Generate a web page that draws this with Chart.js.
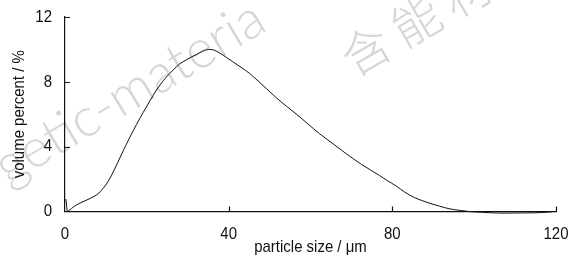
<!DOCTYPE html>
<html>
<head>
<meta charset="utf-8">
<script src="https://cdn.jsdelivr.net/npm/chart.js@4"></script>
<style>
html,body{margin:0;padding:0;background:#fff;}
#wrap{width:568px;height:259px;position:relative;}
</style>
</head>
<body>
<div id="wrap"><canvas id="c" width="568" height="259"></canvas></div>
<script>
// ---- data ----
const particleSize = [0, 0.2, 0.57, 1.2, 2, 3.66, 6.1, 8.1, 9.3, 10.6, 12, 13.4, 15, 16.7, 18.3, 19.9, 21.5, 23.2, 24.8, 26.4, 28, 29.7, 31, 32.1, 33.7, 35.4, 36.5, 37.8, 39.5, 41, 43, 45.1, 47.2, 49.2, 51.5, 54.1, 56.5, 59.3, 62.2, 65.5, 68.7, 72.5, 76.8, 78.8, 80.9, 83, 85.4, 87.2, 89, 91.5, 93.9, 96.5, 98.8, 102, 106.8, 111, 115, 118.5, 120];
const volumePercent = [0.68, 0.75, 0.02, 0.1, 0.27, 0.52, 0.8, 1.1, 1.42, 1.88, 2.55, 3.3, 4.15, 5.0, 5.75, 6.45, 7.15, 7.8, 8.3, 8.72, 9.1, 9.36, 9.55, 9.68, 9.9, 10.0, 9.95, 9.78, 9.5, 9.24, 8.9, 8.52, 8.05, 7.59, 7.05, 6.5, 6.02, 5.42, 4.8, 4.18, 3.57, 2.9, 2.23, 1.9, 1.58, 1.2, 0.86, 0.68, 0.52, 0.33, 0.17, 0.07, 0.0, -0.05, -0.1, -0.09, -0.08, -0.03, 0];
const xTicks = [0, 40, 80, 120];
const yTicks = [0, 4, 8, 12];
const xTitle = 'particle size / \u03bcm';
const yTitle = 'volume percent / %';
const watermarkLatin = 'getic-materia';
const watermarkCJK = ['含', '能', '材'];

const FONT = "'Liberation Sans', Arial, sans-serif";
const NARROW = 0.88;
const points = particleSize.map((x, i) => ({x: x, y: volumePercent[i]}));

// draw chart text horizontally condensed (Arial Narrow look)
const narrowText = {
  id: 'narrowText',
  beforeDraw(chart) {
    const ctx = chart.ctx;
    if (!ctx.__origFill) {
      ctx.__origFill = ctx.fillText;
    }
    const orig = ctx.__origFill;
    ctx.fillText = function (text, x, y, maxW) {
      this.save();
      this.translate(x, y);
      this.scale(NARROW, 1);
      orig.call(this, text, 0, 0);
      this.restore();
    };
    // watermark, behind everything, drawn with the normal text routine
    ctx.save();
    ctx.fillStyle = '#d6d6d6';
    ctx.textBaseline = 'alphabetic';
    ctx.textAlign = 'left';
    ctx.font = "300 54px Lato, 'Open Sans', 'Liberation Sans', sans-serif";
    ctx.translate(8, 186);
    ctx.rotate(-31 * Math.PI / 180);
    orig.call(ctx, watermarkLatin, 0, 0);
    ctx.restore();
    ctx.save();
    ctx.fillStyle = '#d6d6d6';
    ctx.font = "300 48px 'Noto Sans CJK SC', sans-serif";
    ctx.textAlign = 'center';
    ctx.textBaseline = 'middle';
    ctx.translate(366, 50);
    ctx.rotate(-30 * Math.PI / 180);
    watermarkCJK.forEach((ch, i) => orig.call(ctx, ch, i * 58, 0));
    ctx.restore();
  },
  afterDraw(chart) {
    const ctx = chart.ctx;
    const xs = chart.scales.x, ys = chart.scales.y;
    const a = chart.chartArea;
    ctx.save();
    ctx.strokeStyle = '#111';
    ctx.lineWidth = 1.2;
    ctx.beginPath();
    xs.ticks.forEach((t) => {
      if (t.value === 0) return;
      const px = Math.round(xs.getPixelForValue(t.value)) + 0.5;
      ctx.moveTo(px, a.bottom);
      ctx.lineTo(px, a.bottom - 5);
    });
    ys.ticks.forEach((t) => {
      if (t.value === 0) return;
      const py = Math.round(ys.getPixelForValue(t.value)) + 0.5;
      ctx.moveTo(a.left, py);
      ctx.lineTo(a.left + 5, py);
    });
    ctx.stroke();
    ctx.restore();
  }
};

new Chart(document.getElementById('c'), {
  type: 'line',
  data: {
    datasets: [{
      data: points,
      borderColor: '#111',
      borderWidth: 1,
      pointRadius: 0,
      tension: 0.3,
      cubicInterpolationMode: 'monotone',
      fill: false,
      clip: false
    }]
  },
  options: {
    responsive: false,
    animation: false,
    devicePixelRatio: 1,
    layout: {padding: {left: 0, right: 12, top: 17, bottom: 0}},
    plugins: {legend: {display: false}, tooltip: {enabled: false}},
    scales: {
      x: {
        type: 'linear',
        min: 0, max: 120,
        afterBuildTicks(scale) { scale.ticks = xTicks.map(v => ({value: v})); },
        afterFit(scale) { scale.height = 47.5; scale.paddingLeft = 0; scale.paddingRight = 0; },
        grid: {display: false, drawTicks: false},
        border: {display: true, color: '#111', width: 1.2},
        ticks: {color: '#111', padding: 13, maxRotation: 0, font: {family: FONT, size: 17}},
        title: {display: true, text: xTitle, color: '#111', padding: {top: 2, bottom: 1}, font: {family: FONT, size: 17}}
      },
      y: {
        type: 'linear',
        min: 0, max: 12,
        afterBuildTicks(scale) { scale.ticks = yTicks.map(v => ({value: v})); },
        afterFit(scale) { scale.width = 65; scale.paddingTop = 0; scale.paddingBottom = 0; },
        grid: {display: false, drawTicks: false},
        border: {display: true, color: '#111', width: 1.2},
        ticks: {color: '#111', padding: 13, font: {family: FONT, size: 17}},
        title: {display: true, text: yTitle, color: '#111', padding: {top: 9, bottom: 9}, font: {family: FONT, size: 17}}
      }
    }
  },
  plugins: [narrowText]
});
</script>
</body>
</html>
